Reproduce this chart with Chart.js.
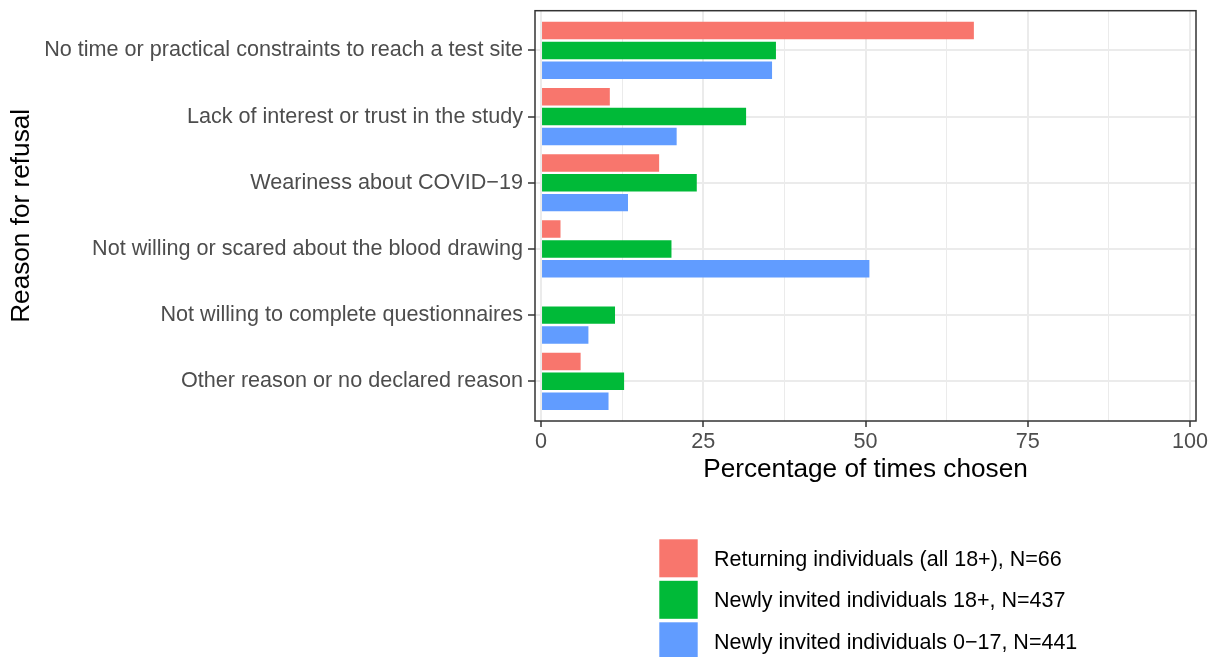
<!DOCTYPE html>
<html>
<head>
<meta charset="utf-8">
<script src="https://cdn.jsdelivr.net/npm/chart.js@4"></script>
<style>
  html, body { margin: 0; padding: 0; background: #fff; }
</style>
</head>
<body>
<canvas id="chart" width="1217" height="657"></canvas>
<script>
// data
const reasons = [
  'No time or practical constraints to reach a test site',
  'Lack of interest or trust in the study',
  'Weariness about COVID\u221219',
  'Not willing or scared about the blood drawing',
  'Not willing to complete questionnaires',
  'Other reason or no declared reason'
];
const returning = [66.7, 10.6, 18.2, 3.0, 0, 6.1];
const newAdults = [36.2, 31.6, 24.0, 20.1, 11.4, 12.8];
const newChildren = [35.6, 20.9, 13.4, 50.6, 7.3, 10.4];
const xTicks = [0, 12.5, 25, 37.5, 50, 62.5, 75, 87.5, 100];
const groupLabels = [
  'Returning individuals (all 18+), N=66',
  'Newly invited individuals 18+, N=437',
  'Newly invited individuals 0\u221217, N=441'
];
const groupColors = ['#F8766D', '#00BA38', '#619CFF'];

const FONT = '"Liberation Sans", Arial, Helvetica, sans-serif';

function toPoints(values) {
  return values.map((v, i) => ({ x: v, y: i }));
}

const datasets = [returning, newAdults, newChildren].map((vals, i) => ({
  label: groupLabels[i],
  data: toPoints(vals),
  backgroundColor: groupColors[i],
  borderWidth: 0,
  categoryPercentage: 0.9,
  barPercentage: 0.88
}));

// panel border drawn on top, like theme_bw
const panelBorder = {
  id: 'panelBorder',
  afterDatasetsDraw(chart) {
    const { ctx, chartArea: a } = chart;
    ctx.save();
    ctx.strokeStyle = '#333333';
    ctx.lineWidth = 1.5;
    ctx.strokeRect(a.left, a.top, a.right - a.left, a.bottom - a.top);
    ctx.restore();
  }
};

// legend under the panel, centred on it
const bottomLegend = {
  id: 'bottomLegend',
  afterDraw(chart) {
    const { ctx } = chart;
    ctx.save();
    ctx.font = '21.5px ' + FONT;
    ctx.textBaseline = 'middle';
    chart.data.datasets.forEach((d, i) => {
      const y = 539.3 + i * 41.5;
      ctx.fillStyle = d.backgroundColor;
      ctx.fillRect(659.3, y, 38.4, 38);
      ctx.fillStyle = '#000';
      ctx.fillText(d.label, 714, y + 20.5);
    });
    ctx.restore();
  }
};

new Chart(document.getElementById('chart'), {
  type: 'bar',
  data: { datasets },
  plugins: [panelBorder, bottomLegend],
  options: {
    indexAxis: 'y',
    responsive: false,
    animation: false,
    devicePixelRatio: 1,
    layout: { padding: { top: 10.7, right: 21, left: 0, bottom: 657 - 421 - 64 } },
    plugins: { legend: { display: false }, tooltip: { enabled: false } },
    scales: {
      x: {
        type: 'linear',
        min: -0.93,
        max: 100.93,
        afterBuildTicks: s => { s.ticks = xTicks.map(v => ({ value: v })); },
        afterFit: s => { s.height = 64; s.paddingLeft = 0; s.paddingRight = 0; },
        border: { display: false },
        grid: {
          color: '#EBEBEB',
          lineWidth: c => (c.tick && c.tick.value % 25 === 0) ? 2 : 1,
          tickColor: c => (c.tick && c.tick.value % 25 === 0) ? '#333333' : 'rgba(0,0,0,0)',
          tickLength: 6,
          tickWidth: 1.5
        },
        ticks: {
          autoSkip: false,
          maxRotation: 0,
          padding: 2,
          color: '#4D4D4D',
          font: { family: FONT, size: 21.6 },
          callback: v => (v % 25 === 0 ? String(v) : '')
        },
        title: {
          display: true,
          text: 'Percentage of times chosen',
          color: '#000',
          font: { family: FONT, size: 26.2 },
          padding: { top: 0, bottom: 0 }
        }
      },
      y: {
        type: 'linear',
        min: -0.6,
        max: 5.6,
        reverse: true,
        offset: false,
        afterBuildTicks: s => { s.ticks = reasons.map((r, i) => ({ value: i })); },
        afterFit: s => { s.width = 535; s.paddingTop = 0; s.paddingBottom = 0; },
        border: { display: false },
        grid: {
          offset: false,
          color: '#EBEBEB',
          lineWidth: 2,
          tickColor: '#333333',
          tickLength: 7,
          tickWidth: 1.5
        },
        ticks: {
          autoSkip: false,
          padding: 5,
          color: '#4D4D4D',
          font: { family: FONT, size: 21.6 },
          callback: v => reasons[v] || ''
        },
        title: {
          display: true,
          text: 'Reason for refusal',
          color: '#000',
          font: { family: FONT, size: 26.2 },
          padding: { top: 6, bottom: 0 }
        }
      }
    }
  }
});
</script>
</body>
</html>
